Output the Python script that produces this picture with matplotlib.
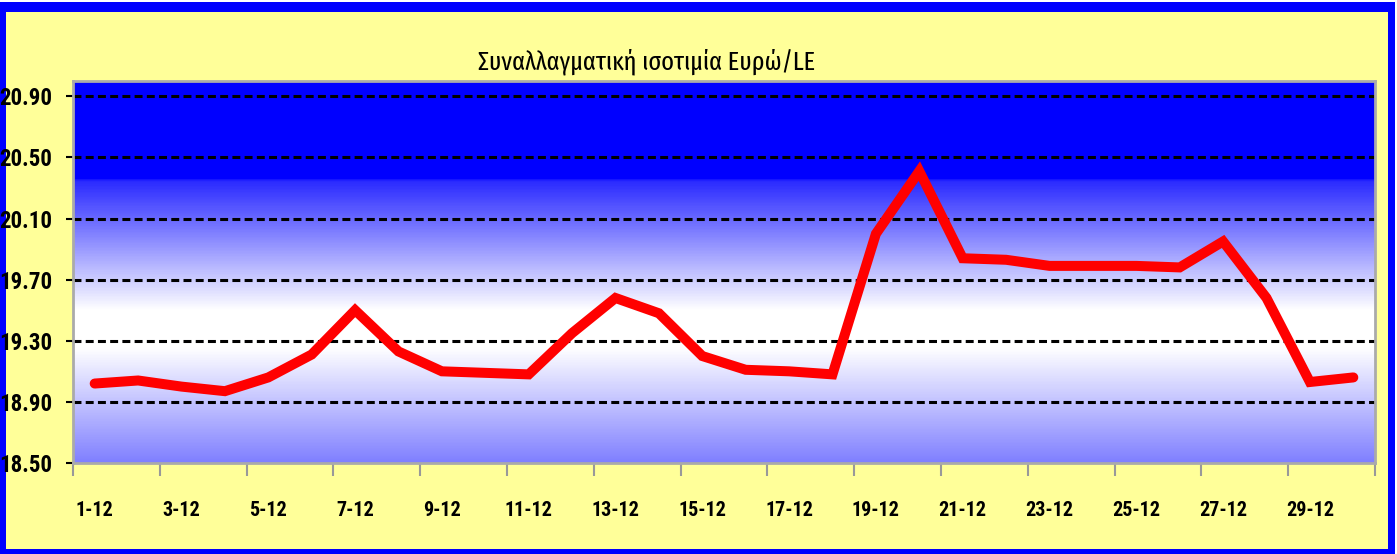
import numpy as np
import matplotlib
matplotlib.use("Agg")
import matplotlib.pyplot as plt
from matplotlib import font_manager
from matplotlib.colors import LinearSegmentedColormap
from matplotlib.patches import Rectangle

days = [f"{d}-12" for d in range(1, 31)]
rate = [19.02, 19.04, 19.00, 18.97, 19.06, 19.21, 19.50, 19.23, 19.10, 19.09,
        19.08, 19.35, 19.58, 19.48, 19.20, 19.11, 19.10, 19.08, 20.00, 20.41,
        19.84, 19.83, 19.79, 19.79, 19.79, 19.78, 19.95, 19.58, 19.03, 19.06]
y_ticks = [18.50, 18.90, 19.30, 19.70, 20.10, 20.50, 20.90]
title = "Συναλλαγματική ισοτιμία Ευρώ/LE"

# pick condensed faces (Arial Narrow look-alike)
names = {f.name for f in font_manager.fontManager.ttflist}

def pick(cands):
    for c in cands:
        if c in names:
            return c
    return "DejaVu Sans"

NARROW = pick(["Liberation Sans Narrow", "Arial Narrow", "Roboto Condensed", "Fira Sans Condensed",
               "Open Sans Condensed", "Asap Condensed", "Barlow Semi Condensed", "Archivo Narrow"])
TITLE_FONT = pick(["Fira Sans Extra Condensed", "Roboto Condensed", "Fira Sans Condensed", NARROW])
plt.rcParams["font.family"] = [NARROW, "DejaVu Sans"]

W, H = 1397, 554
fig = plt.figure(figsize=(W / 100, H / 100), dpi=100, facecolor="white")

# blue frame + yellow chart area
fig.patches.append(Rectangle((0 / W, 0 / H), 1395 / W, 552 / H, transform=fig.transFigure,
                             facecolor="#0000ff", edgecolor="none", zorder=-10))
fig.patches.append(Rectangle((6 / W, 5 / H), 1382 / W, 537 / H, transform=fig.transFigure,
                             facecolor="#ffff99", edgecolor="none", zorder=-9))

ax = fig.add_axes([73 / W, 1 - 463 / H, 1302 / W, 382 / H])
n = len(days)
x = np.arange(n)
ax.set_xlim(-0.5, n - 0.5)
ax.set_ylim(18.5, 21.0)

# gradient background: light blue bottom, white middle, solid blue top
cmap = LinearSegmentedColormap.from_list(
    "bg", [(0.0, "#8080ff"), (0.30, "#ffffff"), (0.40, "#ffffff"),
           (0.74, "#2a2aff"), (0.745, "#0000ff"), (1.0, "#0000ff")])
grad = np.linspace(0, 1, 400).reshape(-1, 1)
ax.imshow(grad, cmap=cmap, aspect="auto", origin="lower",
          extent=[-0.5, n - 0.5, 18.5, 21.0], zorder=0)

for yv in y_ticks[1:]:
    ax.axhline(yv, color="black", lw=2.2, ls=(0, (2.6, 1.4)), zorder=1)

ax.plot(x, rate, color="#ff0000", lw=7.2, solid_capstyle="round",
        solid_joinstyle="miter", zorder=3)

ax.set_yticks(y_ticks)
ax.set_yticklabels([f"{v:.2f}" for v in y_ticks], fontsize=16.5, fontweight="bold")
ax.set_xticks(np.arange(-0.5, n, 2))
ax.set_xticklabels([])
ax.set_xticks(x[::2], minor=True)
ax.set_xticklabels(days[::2], minor=True, fontsize=14.5, fontweight="bold")
ax.tick_params(axis="x", which="major", length=9, width=1.5, color="#999999", direction="out")
ax.tick_params(axis="x", which="minor", length=0, pad=27)
ax.tick_params(axis="y", length=5, width=1.5, color="black", pad=10)
for s in ax.spines.values():
    s.set_color("#aaaaaa")
    s.set_linewidth(2)
    s.set_zorder(4)

fig.text(647 / W, 1 - 69 / H, title, ha="center", va="baseline", fontsize=19,
         family=[TITLE_FONT, "DejaVu Sans"], fontweight="normal")

fig.savefig("out.png", dpi=100, facecolor=fig.get_facecolor())
